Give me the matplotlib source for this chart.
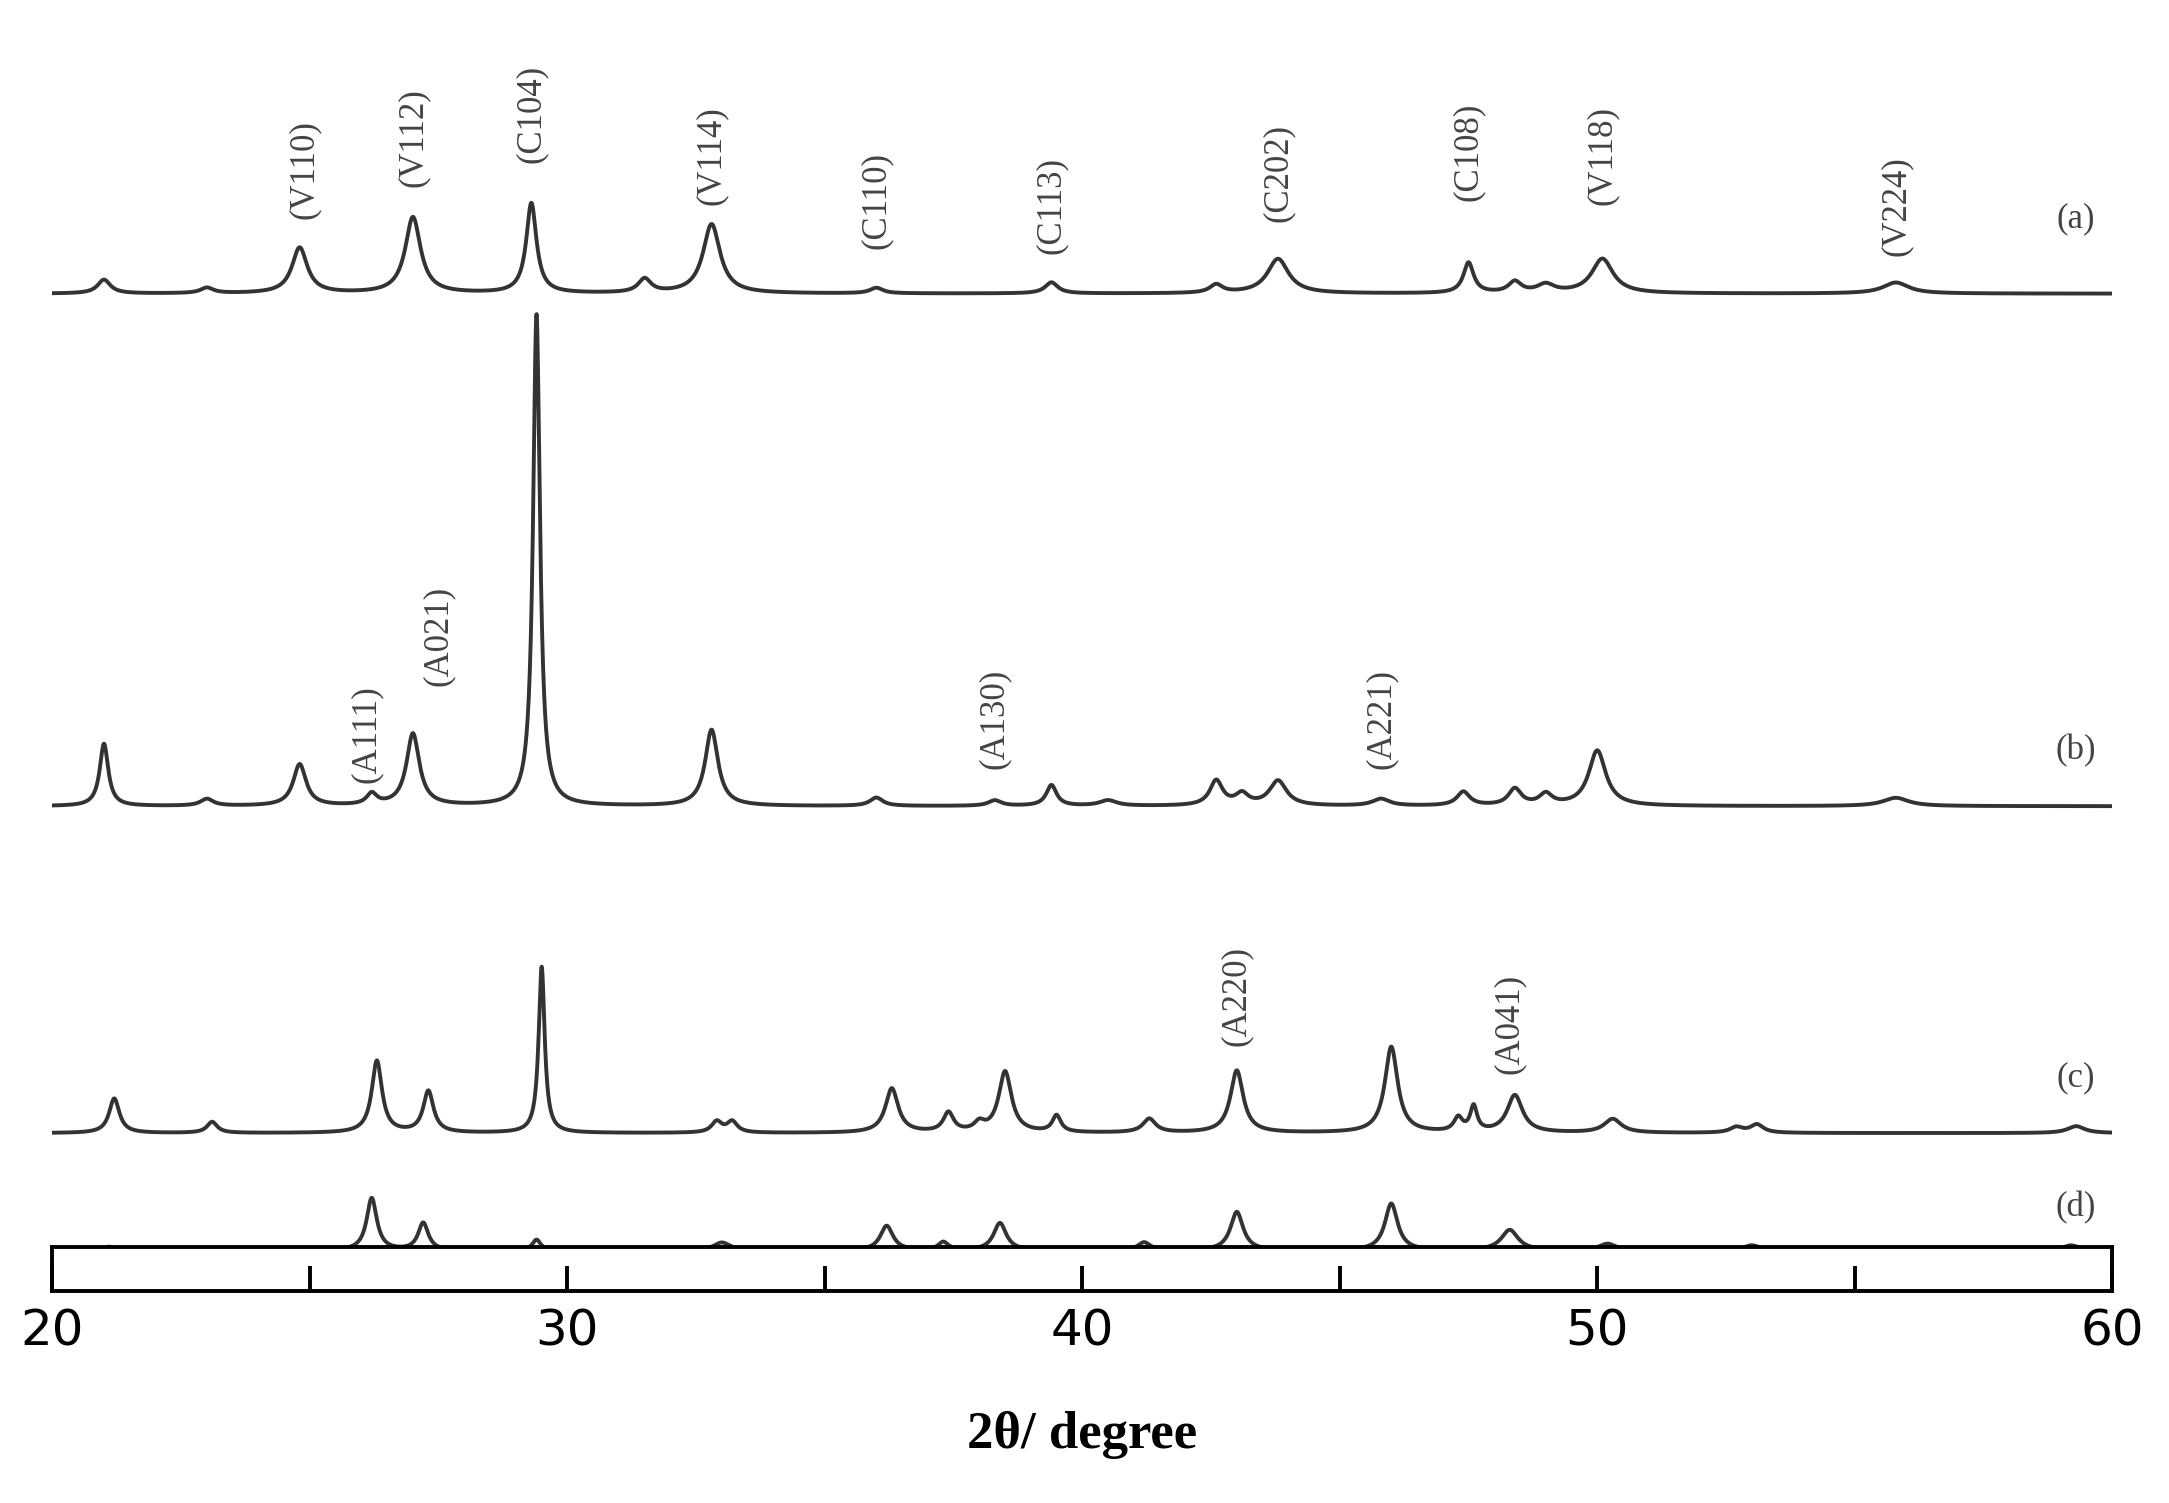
import numpy as np
import matplotlib
matplotlib.use("Agg")
import matplotlib.pyplot as plt

# peak lists: (2theta, intensity, half-width)
peaks_a = [(21.0,10,.15),(23.0,4,.15),(24.8,33,.18),(27.0,55,.18),(29.3,65,.12),(31.5,10,.15),
           (32.8,50,.2),(36.0,4,.15),(39.4,8,.15),(42.6,6,.15),(43.8,25,.25),(47.5,22,.12),
           (48.4,8,.15),(49.0,6,.2),(50.1,25,.25),(55.8,8,.3)]
peaks_b = [(21.0,45,.1),(23.0,5,.15),(24.8,30,.15),(26.2,8,.12),(27.0,52,.15),(29.4,355,.08),
           (32.8,55,.15),(36.0,6,.15),(38.3,4,.15),(39.4,15,.12),(40.5,4,.2),(42.6,18,.15),
           (43.1,8,.15),(43.8,18,.2),(45.8,5,.2),(47.4,10,.15),(48.4,12,.15),(49.0,8,.15),
           (50.0,40,.2),(55.8,6,.3)]
peaks_c = [(21.2,25,.12),(23.1,8,.12),(26.3,52,.12),(27.3,30,.12),(29.5,120,.07),(32.9,8,.12),
           (33.2,8,.12),(36.3,32,.15),(37.4,14,.12),(38.0,6,.12),(38.5,44,.15),(39.5,12,.1),
           (41.3,10,.15),(43.0,45,.15),(46.0,62,.15),(47.3,10,.1),(47.6,18,.08),(48.4,27,.18),
           (50.3,10,.2),(52.7,4,.15),(53.1,6,.15),(59.3,5,.2)]
peaks_d = [(21.1,3,.15),(26.2,38,.12),(27.2,20,.12),(29.4,8,.1),(33.0,6,.2),(36.2,18,.15),
           (37.3,6,.12),(38.4,20,.15),(41.2,6,.15),(43.0,28,.15),(46.0,34,.15),(48.3,15,.2),
           (50.2,5,.2),(53.0,4,.2),(59.2,4,.2)]
offsets = [-212, -582, -818, -903]
sample_labels = ["(a)", "(b)", "(c)", "(d)"]
sample_label_y = [-158, -542, -778, -872]

hkl_labels = [("(V110)",24.9,-158),("(V112)",27.0,-135),("(C104)",29.3,-118),("(V114)",32.8,-148),
              ("(C110)",36.0,-180),("(C113)",39.4,-183),("(C202)",43.8,-160),("(C108)",47.5,-145),
              ("(V118)",50.1,-148),("(V224)",55.8,-185),
              ("(A111)",26.1,-565),("(A021)",27.5,-495),("(A130)",38.3,-555),("(A221)",45.8,-555),
              ("(A220)",43.0,-755),("(A041)",48.3,-775)]

x = np.linspace(20, 60, 6000)
def pattern(pk):
    y = np.zeros_like(x)
    for c, h, w in pk:
        y += h / (1 + ((x - c) / w) ** 2)
    return y

fig = plt.figure(figsize=(21.69, 15.03), dpi=100)
ax = fig.add_axes([0.0242, 0.1705, 0.9496, 0.8295])
col = "#333333"
for pk, off in zip([peaks_a, peaks_b, peaks_c, peaks_d], offsets):
    ax.plot(x, pattern(pk) + off, color=col, lw=2.8)
ax.set_xlim(20, 60)
ax.set_ylim(-900, 0)
ax.axis("off")
for t, xx, yy in hkl_labels:
    ax.text(xx, yy, t, rotation=90, ha="center", va="bottom", fontsize=25,
            family="Liberation Serif", color="#444444")
for t, yy in zip(sample_labels, sample_label_y):
    ax.text(59.3, yy, t, ha="center", va="center", fontsize=25, family="Liberation Serif", color="#444444")

ax2 = fig.add_axes([0.0242, 0.141, 0.9496, 0.0295])
ax2.set_xlim(20, 60)
ax2.set_yticks([])
ax2.set_xticks([20, 30, 40, 50, 60])
ax2.set_xticks([25, 35, 45, 55], minor=True)
ax2.tick_params(axis="x", which="both", direction="in", length=18, width=2.8, labelsize=36, pad=12)
for s in ax2.spines.values():
    s.set_linewidth(2.8)
ax2.set_xlabel("2θ/ degree", fontsize=38, fontweight="bold", family="Liberation Serif", labelpad=40)
fig.savefig("out.png", dpi=100)
